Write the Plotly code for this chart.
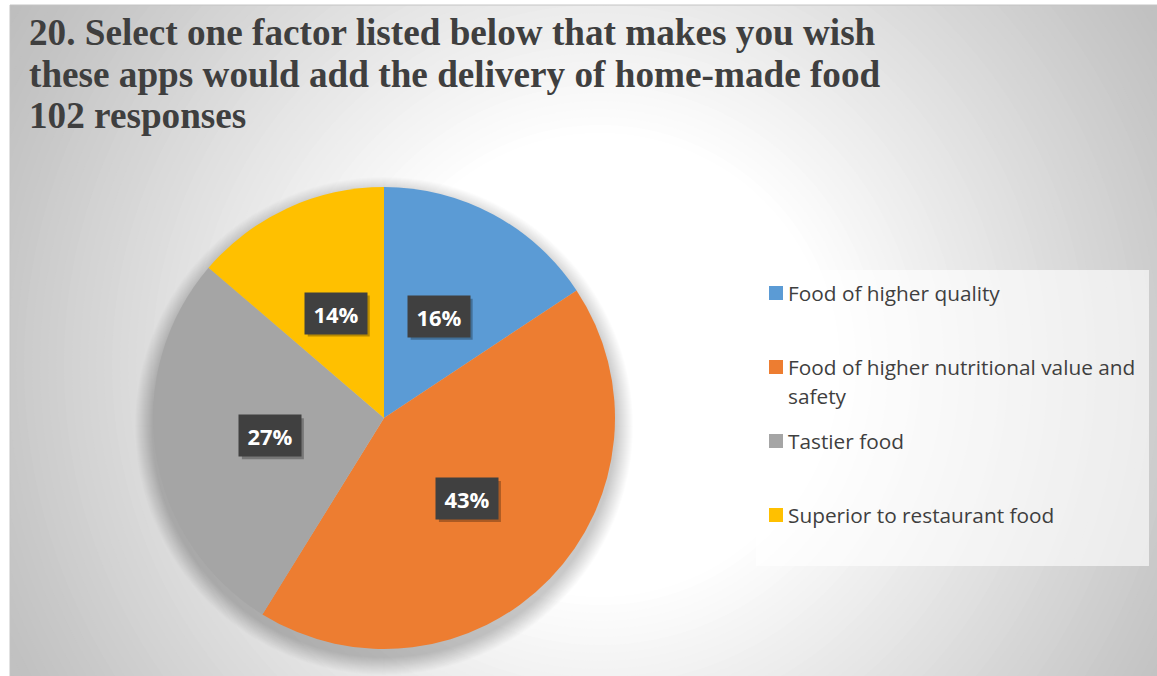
import math
import textwrap
import plotly.graph_objects as go

# ---------------- data ----------------
CATEGORIES = [
    "Food of higher quality",
    "Food of higher nutritional value and safety",
    "Tastier food",
    "Superior to restaurant food",
]
COUNTS = [16, 44, 28, 14]          # of 102 responses
COLORS = ["#5B9BD5", "#ED7D31", "#A5A5A5", "#FFC000"]
TITLE_LINES = [
    "20. Select one factor listed below that makes you wish",
    "these apps would add the delivery of home-made food",
    "102 responses",
]

# ---------------- layout constants (pixels) ----------------
W, H = 1157, 676
CX, CY, R = 384, 418, 231          # pie centre / radius
AREA = (10, 5, 1157, 676)          # chart area
GRAD_C = (600, 365)                # radial gradient centre
LEG_BOX = (756, 270, 1149, 566)
LEG_Y0, LEG_DY = 293, 74
TEXT_DARK = "#3f3f3f"
LBL_W, LBL_H = 62, 41


def px(x):
    return x / W


def py(y):
    return 1 - y / H


shapes = []

# radial background gradient (concentric circles, outer -> inner)
def grey_at(d):
    r0, r1 = 230.0, 600.0
    if d <= r0:
        return 255
    if d <= r1:
        return 255 - 55 * (d - r0) / (r1 - r0)
    return max(186, 200 - 14 * (d - r1) / 120)

r = 760
while r >= 220:
    g = int(round(grey_at(r)))
    shapes.append(dict(
        type="circle", layer="below", xref="paper", yref="paper",
        xsizemode="pixel", ysizemode="pixel",
        xanchor=px(GRAD_C[0]), yanchor=py(GRAD_C[1]),
        x0=-r, x1=r, y0=-r, y1=r,
        fillcolor=f"rgb({g},{g},{g})", line=dict(width=0),
    ))
    r -= 8

# white margins outside chart area + thin border
shapes.append(dict(type="rect", layer="below", xref="paper", yref="paper",
                   x0=0, x1=px(AREA[0]), y0=0, y1=1,
                   fillcolor="white", line=dict(width=0)))
shapes.append(dict(type="rect", layer="below", xref="paper", yref="paper",
                   x0=0, x1=1, y0=py(AREA[1]), y1=1,
                   fillcolor="white", line=dict(width=0)))
shapes.append(dict(type="rect", layer="below", xref="paper", yref="paper",
                   x0=px(AREA[0]), x1=px(AREA[2]) + 0.01, y0=-0.01, y1=py(AREA[1]),
                   fillcolor="rgba(0,0,0,0)", line=dict(width=1, color="#c4c4c4")))

# soft pie shadow (offset downward)
for k in range(18, 0, -1):
    rr = R + k
    shapes.append(dict(
        type="circle", layer="below", xref="paper", yref="paper",
        xsizemode="pixel", ysizemode="pixel",
        xanchor=px(CX), yanchor=py(CY + 8),
        x0=-rr, x1=rr, y0=-rr, y1=rr,
        fillcolor="rgba(0,0,0,0.011)", line=dict(width=0),
    ))

# legend box
shapes.append(dict(type="rect", layer="below", xref="paper", yref="paper",
                   x0=px(LEG_BOX[0]), x1=px(LEG_BOX[2]),
                   y0=py(LEG_BOX[3]), y1=py(LEG_BOX[1]),
                   fillcolor="rgba(255,255,255,0.62)", line=dict(width=0)))

annotations = []

# title
TITLE_MID = [32, 74, 116]
for line, yc in zip(TITLE_LINES, TITLE_MID):
    annotations.append(dict(
        text=line, xref="paper", yref="paper", x=px(28), y=py(yc),
        xanchor="left", yanchor="middle", showarrow=False, borderpad=0,
        font=dict(family="Liberation Serif", size=37.2, color=TEXT_DARK, weight="bold"),
    ))

# legend entries
for i, (cat, col) in enumerate(zip(CATEGORIES, COLORS)):
    yc = LEG_Y0 + LEG_DY * i
    shapes.append(dict(type="rect", layer="above", xref="paper", yref="paper",
                       x0=px(769), x1=px(783), y0=py(yc + 7), y1=py(yc - 7),
                       fillcolor=col, line=dict(width=0)))
    for j, ln in enumerate(textwrap.wrap(cat, 36)):
        annotations.append(dict(
            text=ln, xref="paper", yref="paper", x=px(787), y=py(yc + 29 * j),
            xanchor="left", yanchor="middle", showarrow=False, borderpad=0,
            font=dict(family="Open Sans", size=20.8, color=TEXT_DARK),
        ))

# data labels (percentages) at half radius, slice mid-angle
total = sum(COUNTS)
cum = 0
for c in COUNTS:
    mid = (cum + c / 2) / total * 2 * math.pi
    cum += c
    lx = CX + 0.5 * R * math.sin(mid)
    ly = CY - 0.5 * R * math.cos(mid)
    txt = f"{round(100 * c / total)}%"
    # drop shadow behind the label box
    shapes.append(dict(type="rect", layer="above", xref="paper", yref="paper",
                       xsizemode="pixel", ysizemode="pixel",
                       xanchor=px(lx + 3), yanchor=py(ly + 3),
                       x0=-LBL_W / 2, x1=LBL_W / 2, y0=-LBL_H / 2, y1=LBL_H / 2,
                       fillcolor="rgba(0,0,0,0.28)", line=dict(width=0)))
    annotations.append(dict(
        text=txt, xref="paper", yref="paper", x=px(lx), y=py(ly),
        xanchor="center", yanchor="middle", showarrow=False,
        width=LBL_W, height=LBL_H, borderpad=0, bgcolor="#404040",
        font=dict(family="Open Sans", size=22, color="white", weight="bold"),
    ))

fig = go.Figure(go.Pie(
    labels=CATEGORIES, values=COUNTS, sort=False, direction="clockwise", rotation=0,
    marker=dict(colors=COLORS, line=dict(width=0)),
    textinfo="none", hoverinfo="label+percent", showlegend=False,
    domain=dict(x=[px(CX - R), px(CX + R)], y=[py(CY + R), py(CY - R)]),
))

fig.update_layout(
    width=W, height=H, margin=dict(l=0, r=0, t=0, b=0),
    paper_bgcolor="white", plot_bgcolor="white",
    shapes=shapes, annotations=annotations, showlegend=False,
)

fig.write_html(
    "out.html",
    config={"displayModeBar": False},
    post_script="document.body.style.margin='0px';document.body.style.overflow='hidden';",
)
